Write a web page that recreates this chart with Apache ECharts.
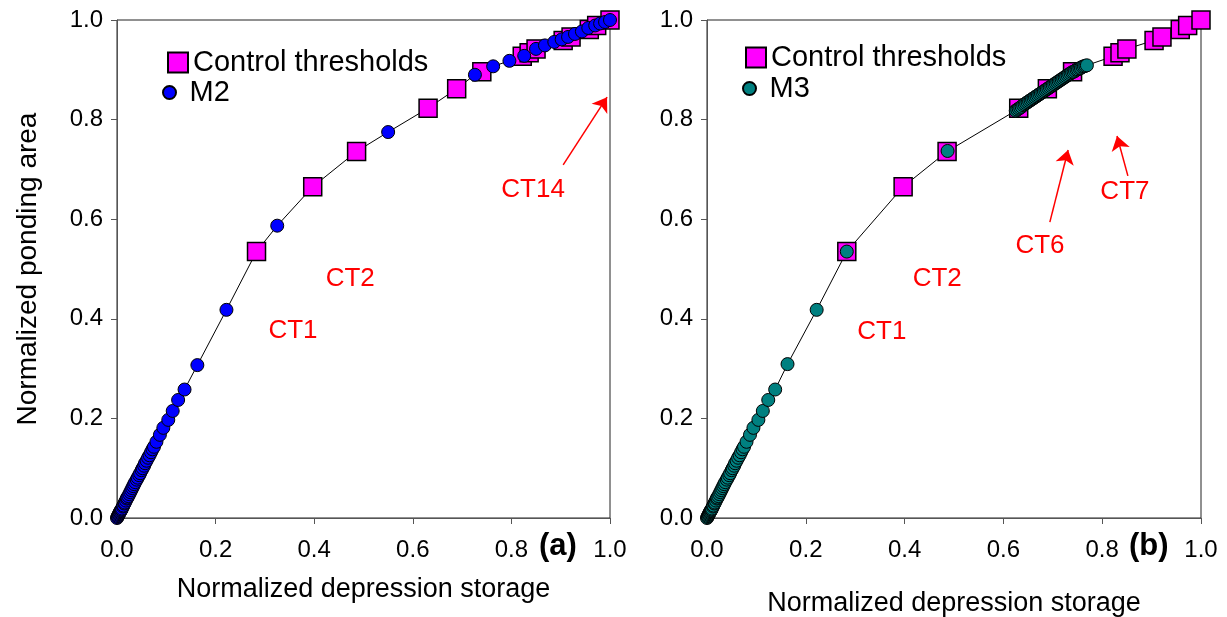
<!DOCTYPE html>
<html>
<head>
<meta charset="utf-8">
<script src="https://cdn.jsdelivr.net/npm/echarts@6/dist/echarts.min.js"></script>
<style>html,body{margin:0;padding:0;background:#fff;}#c{width:1227px;height:617px;}</style>
</head>
<body>
<div id="c"></div>
<script>
// ---- data ----
const tickLabels = ['0.0','0.2','0.4','0.6','0.8','1.0'];
// Control thresholds (same in both panels)
const ctX = [0.283,0.397,0.486,0.631,0.689,0.740,0.822,0.836,0.850,0.905,0.921,0.958,0.973,1.000];
const ctY = [0.535,0.665,0.736,0.823,0.862,0.896,0.927,0.934,0.942,0.959,0.966,0.981,0.989,1.000];
// M2 (panel a)
const m2X = [0,0.001,0.002,0.003,0.004,0.005,0.006,0.007,0.008,0.009,0.010,0.012,0.013,0.015,0.016,0.018,0.020,0.021,0.023,0.025,0.027,0.029,0.031,0.033,0.035,0.037,0.040,0.042,0.045,0.047,0.050,0.052,0.055,0.057,0.060,0.063,0.066,0.069,0.072,0.075,0.080,0.087,0.094,0.104,0.113,0.124,0.137,0.163,0.222,0.325,0.550,0.726,0.763,0.796,0.826,0.850,0.868,0.887,0.902,0.915,0.929,0.943,0.956,0.970,0.980,0.990,1.000];
const m2Y = [0,0.002,0.004,0.006,0.008,0.010,0.012,0.014,0.015,0.017,0.019,0.023,0.025,0.029,0.031,0.035,0.039,0.041,0.044,0.048,0.052,0.056,0.060,0.064,0.068,0.072,0.077,0.081,0.086,0.090,0.096,0.100,0.105,0.110,0.115,0.121,0.126,0.132,0.138,0.143,0.153,0.167,0.181,0.197,0.215,0.237,0.258,0.307,0.418,0.587,0.775,0.890,0.907,0.918,0.928,0.942,0.949,0.956,0.961,0.966,0.972,0.977,0.984,0.989,0.993,0.996,1.000];
// M3 (panel b)
const m3X = [0,0.001,0.002,0.003,0.004,0.005,0.006,0.007,0.008,0.009,0.010,0.012,0.013,0.015,0.016,0.018,0.020,0.021,0.023,0.025,0.027,0.029,0.031,0.033,0.035,0.037,0.040,0.042,0.045,0.047,0.050,0.052,0.055,0.057,0.060,0.063,0.066,0.069,0.072,0.075,0.080,0.087,0.094,0.104,0.113,0.124,0.138,0.163,0.222,0.283,0.487,
  0.625,0.628,0.631,0.634,0.637,0.640,0.643,0.646,0.649,0.652,0.655,0.658,0.661,0.664,0.667,0.670,0.673,0.676,0.679,0.682,0.685,0.688,0.691,0.694,0.697,0.700,0.703,0.706,0.709,0.712,0.715,0.718,0.721,0.724,0.727,0.730,0.733,0.736,0.739,0.742,0.745,0.748,0.751,0.754,0.757,0.760,0.763,0.766,0.769];
const m3Y = [0,0.002,0.004,0.006,0.008,0.010,0.012,0.014,0.015,0.017,0.019,0.023,0.025,0.029,0.031,0.035,0.039,0.041,0.044,0.048,0.052,0.056,0.060,0.064,0.068,0.072,0.077,0.081,0.086,0.090,0.096,0.100,0.105,0.110,0.115,0.121,0.126,0.132,0.138,0.143,0.153,0.167,0.181,0.197,0.215,0.237,0.258,0.309,0.418,0.535,0.737,
  0.818,0.820,0.822,0.824,0.826,0.829,0.831,0.833,0.835,0.837,0.839,0.841,0.843,0.845,0.847,0.849,0.851,0.853,0.855,0.857,0.859,0.861,0.863,0.865,0.867,0.869,0.871,0.873,0.875,0.877,0.879,0.881,0.883,0.885,0.887,0.889,0.891,0.893,0.895,0.896,0.898,0.900,0.901,0.903,0.904,0.906,0.907,0.908,0.909];
// annotations (data coordinates)
const labelsA = [['CT1',0.357,0.375],['CT2',0.473,0.480],['CT14',0.844,0.659]];
const labelsB = [['CT1',0.354,0.373],['CT2',0.466,0.480],['CT6',0.674,0.546],['CT7',0.846,0.655]];
const arrowsA = [[0.905,0.709,0.994,0.845]];
const arrowsB = [[0.694,0.594,0.731,0.739],[0.852,0.687,0.830,0.767]];

const FONT = 'Liberation Sans, Arial, sans-serif';
const pts = (xs, ys) => xs.map((x, i) => [x, ys[i]]);
const merged = (a, b) => a.concat(b).sort((p, q) => p[0] - q[0] || p[1] - q[1]);

const ct = pts(ctX, ctY), m2 = pts(m2X, m2Y), m3 = pts(m3X, m3Y);

function axisX(i, gap) {
  return {
    gridIndex: i, type: 'value', min: 0, max: 1, interval: 0.2,
    splitLine: {show: false},
    axisLine: {show: true, onZero: false, lineStyle: {color: '#555', width: 1}},
    axisTick: {show: true, inside: false, length: 6, lineStyle: {color: '#555'}},
    axisLabel: {formatter: v => tickLabels[Math.round(v / 0.2)], fontSize: 24, color: '#000', margin: 20, fontFamily: FONT},
    name: 'Normalized depression storage', nameLocation: 'middle', nameGap: gap,
    nameTextStyle: {fontSize: 27, color: '#000', fontFamily: FONT}
  };
}
function axisY(i, named) {
  const a = {
    gridIndex: i, type: 'value', min: 0, max: 1, interval: 0.2,
    splitLine: {show: false},
    axisLine: {show: true, onZero: false, lineStyle: {color: '#555', width: 1}},
    axisTick: {show: true, inside: false, length: 6, lineStyle: {color: '#555'}},
    axisLabel: {formatter: v => tickLabels[Math.round(v / 0.2)], fontSize: 24, color: '#000', margin: 14, fontFamily: FONT}
  };
  if (named) {
    a.name = 'Normalized ponding area'; a.nameLocation = 'middle'; a.nameGap = 75;
    a.nameTextStyle = {fontSize: 28, color: '#000', fontFamily: FONT};
  }
  return a;
}
function lineSeries(i, data, labels, arrows) {
  return {
    type: 'line', xAxisIndex: i, yAxisIndex: i, data: data, symbol: 'none', silent: true, z: 1,
    lineStyle: {color: '#000', width: 1}, animation: false,
    markLine: {
      silent: true, symbol: ['none', 'arrow'], symbolSize: 14,
      lineStyle: {color: '#ff0000', width: 1.5, type: 'solid'},
      label: {show: false},
      data: arrows.map(a => [{coord: [a[0], a[1]]}, {coord: [a[2], a[3]]}])
    },
    markPoint: {
      silent: true, symbol: 'circle', symbolSize: 1, itemStyle: {color: 'rgba(0,0,0,0)'},
      label: {show: true, position: 'inside', formatter: '{b}', color: '#ff0000', fontSize: 26, fontFamily: FONT},
      data: labels.map(l => ({name: l[0], coord: [l[1], l[2]]}))
    }
  };
}
function ctSeries(i) {
  return {name: 'Control thresholds', type: 'scatter', xAxisIndex: i, yAxisIndex: i, data: ct,
    symbol: 'rect', symbolSize: 18, z: 3,
    itemStyle: {color: '#ff00ff', borderColor: '#000', borderWidth: 1.5, opacity: 1}};
}
function mSeries(i, name, data, color) {
  return {name: name, type: 'scatter', xAxisIndex: i, yAxisIndex: i, data: data,
    symbol: 'circle', symbolSize: 13, z: 4,
    itemStyle: {color: color, borderColor: '#000', borderWidth: 1, opacity: 1}};
}
function legendItem(name, left, top, w, h, pad) {
  return {data: [name], left: left, top: top, orient: 'vertical', padding: 0,
    itemWidth: w, itemHeight: h, selectedMode: false,
    textStyle: {fontSize: 29, color: '#000', fontFamily: FONT, padding: [0, 0, 0, pad]}};
}

const option = {
  animation: false,
  backgroundColor: '#fff',
  grid: [
    {left: 117, top: 20, width: 493, height: 498, show: true, borderColor: '#222', borderWidth: 1, backgroundColor: 'transparent', containLabel: false, outerBoundsMode: 'none'},
    {left: 707, top: 20, width: 494, height: 498, show: true, borderColor: '#222', borderWidth: 1, backgroundColor: 'transparent', containLabel: false, outerBoundsMode: 'none'}
  ],
  xAxis: [axisX(0, 58), axisX(1, 72)],
  yAxis: [axisY(0, true), axisY(1, false)],
  legend: [
    legendItem('Control thresholds', 167, 48, 20, 20, 0),
    legendItem('M2', 162, 78, 20, 13, 5),
    legendItem('Control thresholds', 745, 43, 20, 20, 0),
    legendItem('M3', 742, 74, 20, 13, 5)
  ],
  title: [
    {text: '(a)', left: 539, top: 531, padding: 0, textStyle: {fontSize: 31, fontWeight: 'bold', color: '#000', fontFamily: FONT}},
    {text: '(b)', left: 1129, top: 531, padding: 0, textStyle: {fontSize: 31, fontWeight: 'bold', color: '#000', fontFamily: FONT}}
  ],
  series: [
    lineSeries(0, merged(ct, m2), labelsA, arrowsA),
    ctSeries(0),
    mSeries(0, 'M2', m2, '#0000ff'),
    lineSeries(1, merged(ct, m3), labelsB, arrowsB),
    ctSeries(1),
    mSeries(1, 'M3', m3, '#008080')
  ]
};
const chart = echarts.init(document.getElementById('c'), null, {renderer: 'canvas'});
chart.setOption(option);
</script>
</body>
</html>
